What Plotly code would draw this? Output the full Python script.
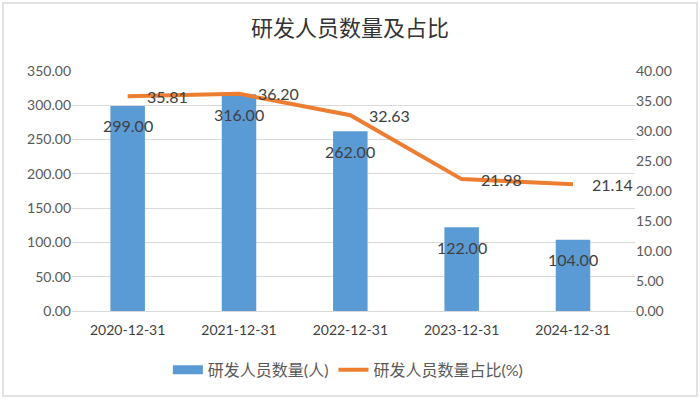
import plotly.graph_objects as go

categories = ["2020-12-31", "2021-12-31", "2022-12-31", "2023-12-31", "2024-12-31"]
staff = [299.00, 316.00, 262.00, 122.00, 104.00]
ratio = [35.81, 36.20, 32.63, 21.98, 21.14]
left_ticks = [0, 50, 100, 150, 200, 250, 300, 350]
right_ticks = [0, 5, 10, 15, 20, 25, 30, 35, 40]

FONT = "Lato, Noto Sans CJK SC, sans-serif"
TXT = "#404040"
TICK = "#595959"

fig = go.Figure()
fig.add_trace(go.Bar(
    x=categories, y=staff, name="研发人员数量(人)",
    marker=dict(color="#5B9BD5", line=dict(width=0)),
    width=0.31, yaxis="y", showlegend=False,
))
# legend proxy for the bar series (wide rectangle swatch)
fig.add_trace(go.Scatter(
    x=[None], y=[None], name="研发人员数量(人)", mode="lines",
    line=dict(color="#5B9BD5", width=9), yaxis="y", showlegend=True,
))
fig.add_trace(go.Scatter(
    x=categories, y=ratio, name="研发人员数量占比(%)",
    mode="lines", line=dict(color="#ED7D31", width=4), yaxis="y2",
))

annotations = []
for c, v in zip(categories, staff):
    annotations.append(dict(x=c, y=v, xref="x", yref="y", text=f"{v:.2f}",
                            showarrow=False, yshift=-20, yanchor="middle",
                            font=dict(family=FONT, size=16, color=TXT)))
for c, v in zip(categories, ratio):
    annotations.append(dict(x=c, y=v, xref="x", yref="y2", text=f"{v:.2f}",
                            showarrow=False, xanchor="left", xshift=17, yanchor="middle",
                            font=dict(family=FONT, size=16, color=TXT)))

fig.update_layout(
    width=700, height=399,
    margin=dict(l=72, r=65, t=71, b=88, autoexpand=False),
    paper_bgcolor="white", plot_bgcolor="white",
    title=dict(text="研发人员数量及占比", x=0.5, xanchor="center", y=0.93, yanchor="middle",
               font=dict(family="Noto Sans CJK SC", size=22, color="#333333")),
    xaxis=dict(type="category", showgrid=False, showline=True, linecolor="#D9D9D9", linewidth=1,
               ticks="", ticklabelstandoff=6, tickfont=dict(family=FONT, size=14, color=TXT)),
    yaxis=dict(range=[0, 350], tickvals=left_ticks, ticktext=[f"{t:.2f}" for t in left_ticks],
               showgrid=True, gridcolor="#D9D9D9", gridwidth=1, zeroline=False,
               ticks="", tickfont=dict(family=FONT, size=14, color=TICK)),
    yaxis2=dict(range=[0, 40], tickvals=right_ticks, ticktext=[f"{t:.2f}" for t in right_ticks],
                overlaying="y", side="right", showgrid=False, zeroline=False,
                ticks="", tickfont=dict(family=FONT, size=14, color=TICK)),
    bargap=0.69,
    showlegend=True,
    legend=dict(orientation="h", x=0.49, xanchor="center", y=-0.245, yanchor="middle",
                font=dict(family=FONT, size=16, color=TICK), traceorder="normal",
                itemwidth=30, tracegroupgap=0),
    annotations=annotations,
    shapes=[dict(type="rect", xref="paper", yref="paper",
                 x0=(3 - 72) / 563, x1=(697 - 72) / 563,
                 y0=(311 - 396) / 240, y1=(311 - 3) / 240,
                 line=dict(color="#D9D9D9", width=1.5), layer="below")],
)

fig.write_html("out.html", config={"displayModeBar": False},
               post_script="document.body.style.margin='0';document.body.style.overflow='hidden';")
